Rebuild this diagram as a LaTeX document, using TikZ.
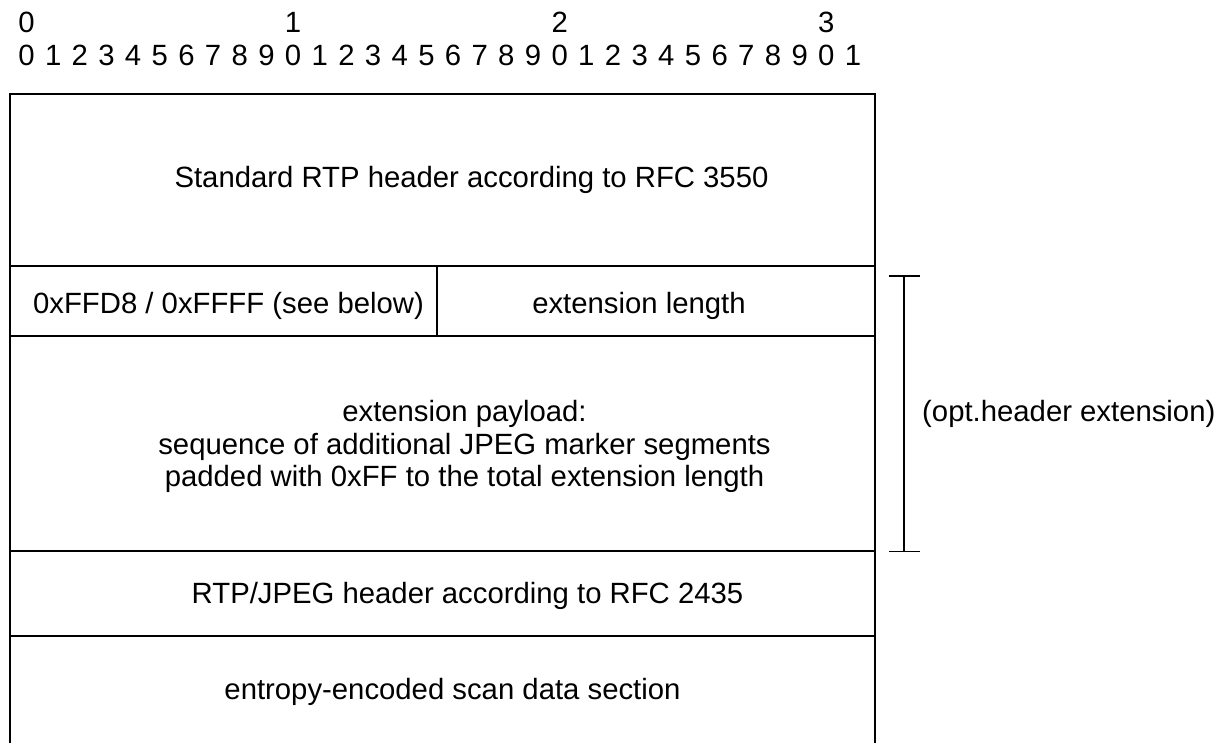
\documentclass[tikz,border=0pt]{standalone}
\usepackage{fontspec}
\setmainfont{Liberation Sans}
\usetikzlibrary{arrows.meta,positioning}

\tikzset{
  field/.style={draw, line width=1.5pt, inner sep=0pt, outer sep=0pt},
  fieldtext/.style={inner sep=0pt, align=center, font=\fontsize{29.3}{32.5}\selectfont},
  bitnum/.style={inner sep=0pt, anchor=base, font=\fontsize{29.3}{32.5}\selectfont}
}

\begin{document}
\begin{tikzpicture}[x=1pt, y=1pt]
  \useasboundingbox (0,0) rectangle (1228,-743);

  % bit ruler
  \foreach \i in {0,...,31} {
    \pgfmathtruncatemacro{\d}{mod(\i,10)}
    \node[bitnum] (bit\i) at (26.5+26.66*\i,-65.5) {\d};
  }
  \foreach \t in {0,1,2,3}
    \node[bitnum] (dec\t) at (26.5+266.6*\t,-33) {\t};

  % packet fields
  \node[field, minimum width=865pt, minimum height=172pt, anchor=north west] (hdr) at (10,-94) {};
  \node[field, minimum width=427pt, minimum height=70pt] (magic) [below right=0pt and 0pt of hdr.south west] {};
  \node[field, minimum width=438pt, minimum height=70pt] (extlen) [right=0pt of magic] {};
  \node[field, minimum width=865pt, minimum height=215pt] (payload) [below right=0pt and 0pt of magic.south west] {};
  \node[field, minimum width=865pt, minimum height=85pt] (jpeghdr) [below right=0pt and 0pt of payload.south west] {};
  \node[field, minimum width=865pt, minimum height=112pt] (scan) [below right=0pt and 0pt of jpeghdr.south west] {};

  % field texts
  \node[fieldtext, xshift=29pt] (hdrtxt) at (hdr) {Standard RTP header according to RFC 3550};
  \node[fieldtext, xshift=5pt, yshift=-5pt] (magictxt) at (magic) {0xFFD8 / 0xFFFF (see below)};
  \node[fieldtext, xshift=-17pt, yshift=-5pt] (extlentxt) at (extlen) {extension length};
  \node[fieldtext, xshift=22pt, yshift=-3pt] (payloadtxt) at (payload) {extension payload:\\ sequence of additional JPEG marker segments\\ padded with 0xFF to the total extension length};
  \node[fieldtext, xshift=25pt, yshift=-2pt] (jpeghdrtxt) at (jpeghdr) {RTP/JPEG header according to RFC 2435};
  \node[fieldtext, xshift=10pt] (scantxt) at (scan) {entropy-encoded scan data section};

  % optional extension bracket
  \coordinate (extTop) at (904,-275);
  \coordinate (extBot) at (904,-552);
  \draw[line width=1.5pt, {Bar[width=31pt]}-{Bar[width=31pt]}] (extTop) -- (extBot);
  \path (extTop) -- (extBot) coordinate[midway] (extMid);
  \node[fieldtext, anchor=west] (extlbl) [right=18pt of extMid] {(opt.header extension)};
\end{tikzpicture}
\end{document}
